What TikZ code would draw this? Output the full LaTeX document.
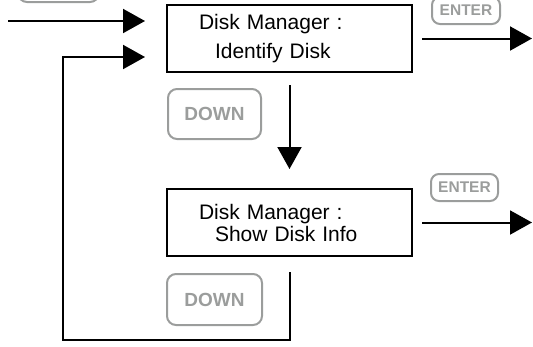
\documentclass[tikz,border=0pt]{standalone}
\usepackage{fontspec}
\setmainfont{Liberation Sans}
\usetikzlibrary{arrows.meta}
\definecolor{keygray}{RGB}{155,157,156}
\begin{document}
\begin{tikzpicture}[x=1pt,y=-1pt,
  menubox/.style={draw,line width=2pt,minimum width=245pt,minimum height=67pt,
    text width=181pt,inner xsep=32pt,align=left,font=\fontsize{21}{22}\selectfont},
  keybtn/.style={draw=keygray,line width=2pt,rounded corners=9pt,text=keygray,
    font=\bfseries\fontsize{19}{20}\selectfont},
  flow/.style={line width=2pt,-{Triangle[length=22pt,width=24pt]}}]
\useasboundingbox (0,0) rectangle (533,346);
\clip (0,0) rectangle (533,346);
% menu boxes
\node[menubox] (identify) at (289.5,38.5) {Disk Manager :\\[7pt]\hspace*{16pt}Identify Disk};
\node[menubox] (showinfo) at (289.5,222.5) {Disk Manager :\\\hspace*{16pt}Show Disk Info};
% keys
\node[keybtn,minimum width=81pt,minimum height=50pt] (prevkey) at (58.5,-23) {};
\node[keybtn,minimum width=93pt,minimum height=50pt] (down1) at (214.5,114) {DOWN};
\node[keybtn,minimum width=95pt,minimum height=51pt] (down2) at (214.5,299.5) {DOWN};
\node[keybtn,minimum width=68pt,minimum height=27pt,rounded corners=8pt,
  font=\bfseries\fontsize{15.5}{16}\selectfont] (enter1) at (466,10.5) {ENTER};
\node[keybtn,minimum width=67pt,minimum height=27pt,rounded corners=8pt,
  font=\bfseries\fontsize{15.5}{16}\selectfont] (enter2) at (464.5,187.5) {ENTER};
% free ends
\coordinate (in) at (8,21);
\coordinate (loopbl) at (63,340);
\coordinate (loopin) at (145,57);
\coordinate (out1) at (532,38.5);
\coordinate (out2) at (532,222.5);
% connectors
\draw[flow,shorten >=21pt] (in) -- (in -| identify.west);
\draw[flow,shorten <=15pt] (showinfo.south) |- (loopbl) |- (loopin);
\draw[flow,shorten <=12pt,shorten >=19pt] (identify.south) -- (showinfo.north);
\draw[flow,shorten <=9pt] (identify.east) -- (out1);
\draw[flow,shorten <=9pt] (showinfo.east) -- (out2);
\end{tikzpicture}
\end{document}
